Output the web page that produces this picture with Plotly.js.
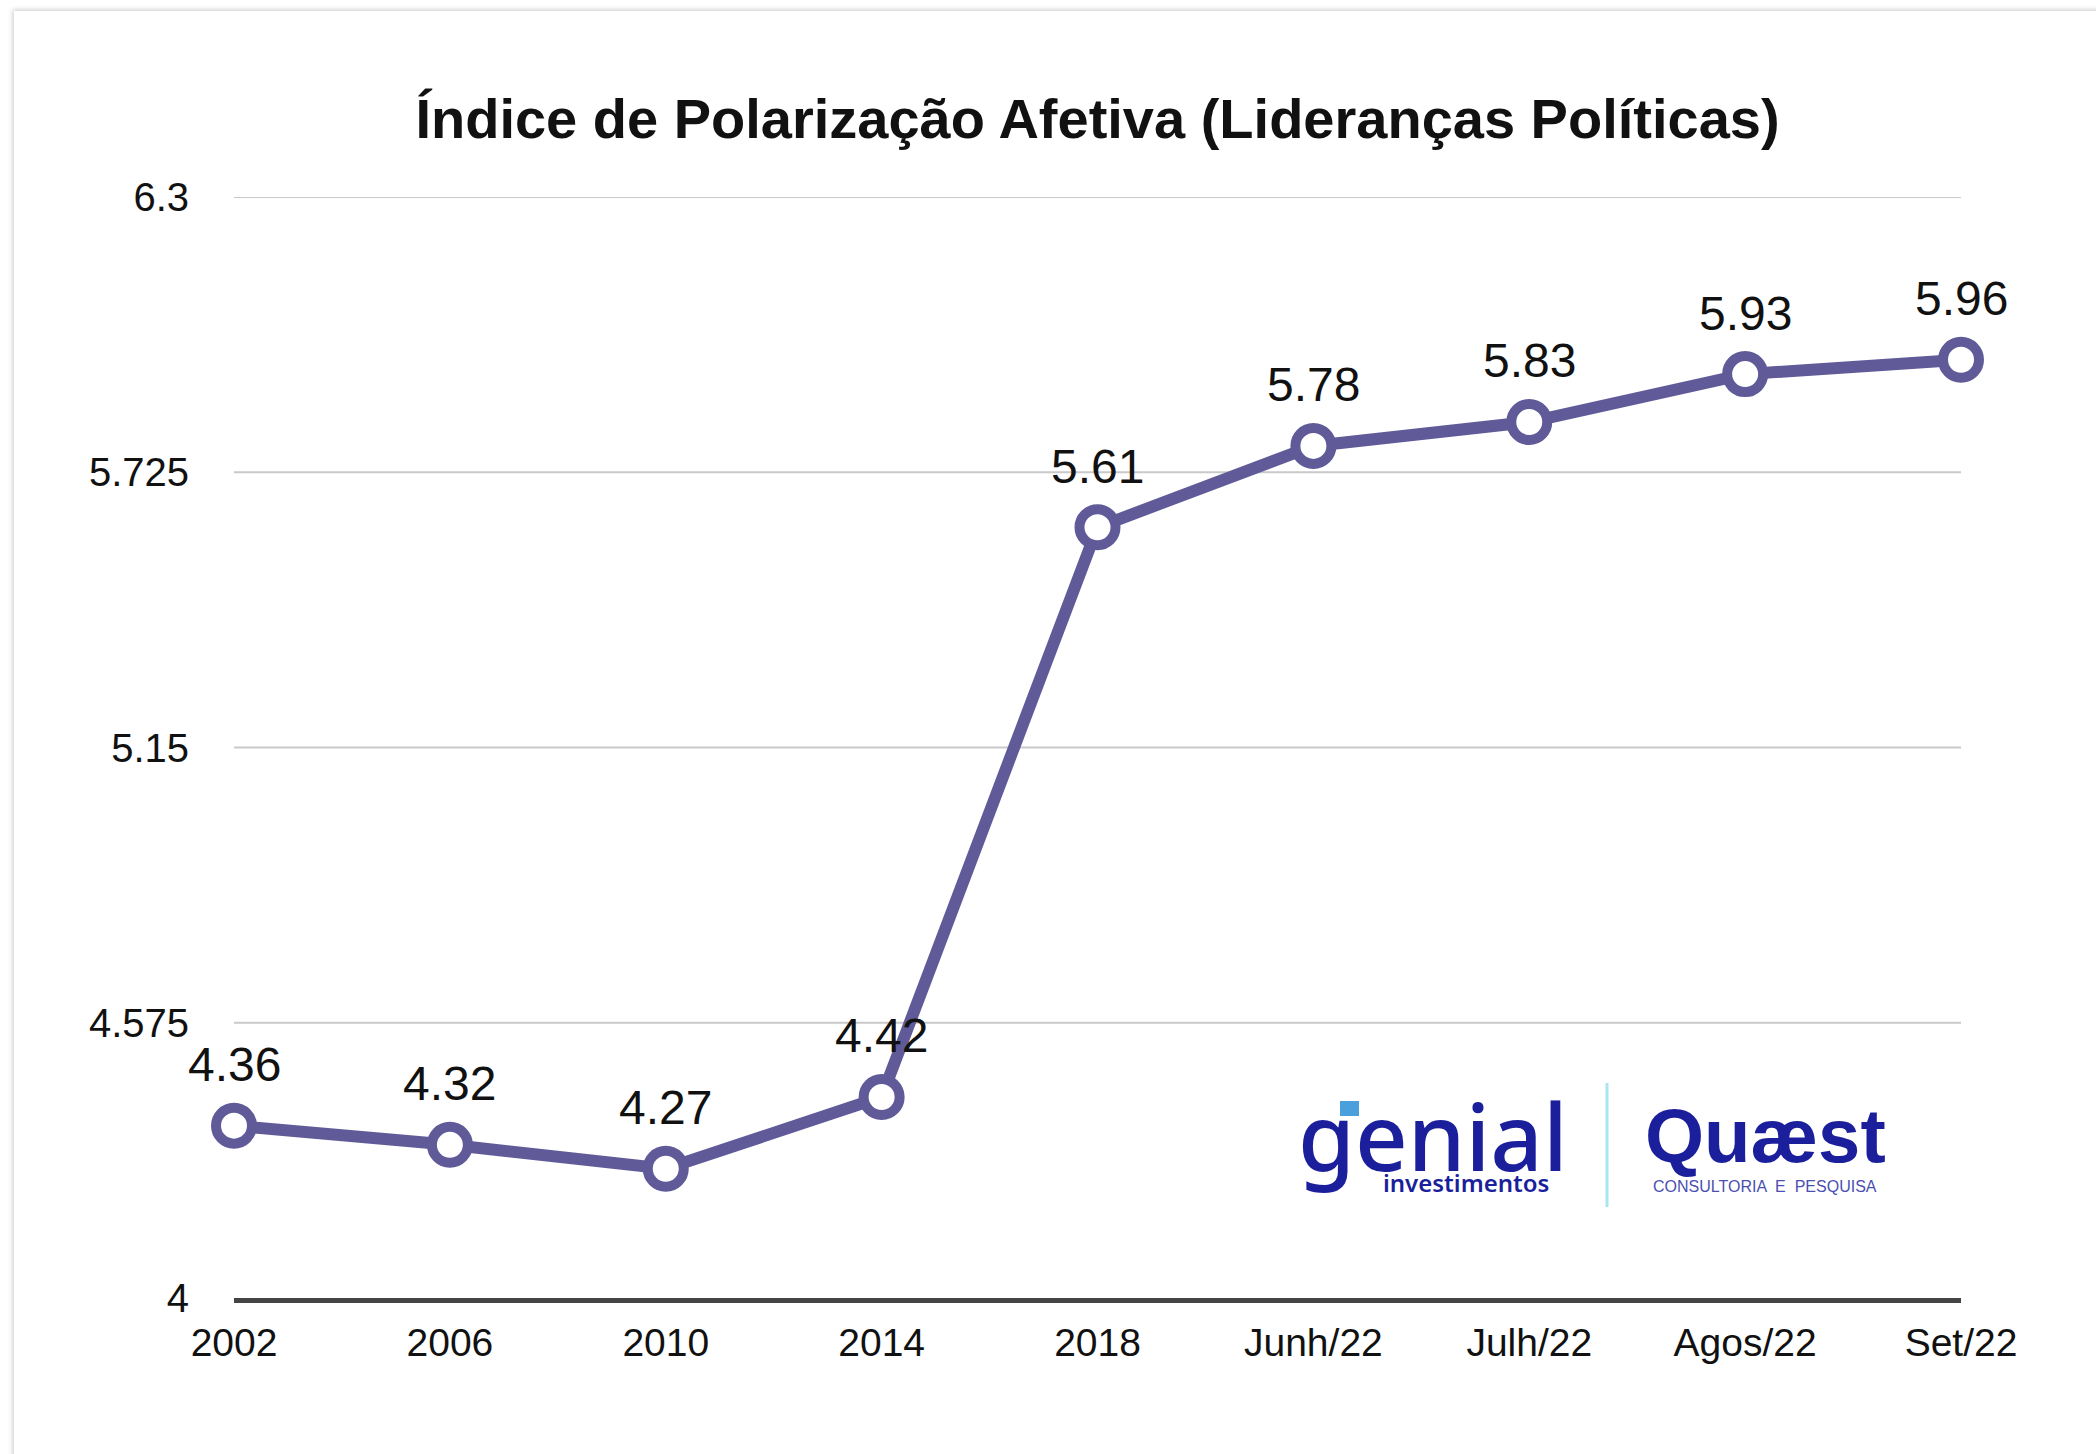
<!DOCTYPE html>
<html>
<head>
<meta charset="utf-8">
<script src="https://cdn.plot.ly/plotly-3.0.1.min.js"></script>
<style>
  html, body { margin: 0; padding: 0; background: #ffffff; width: 2096px; height: 1454px; overflow: hidden; }
  #card { position: absolute; left: 14px; top: 11px; width: 2200px; height: 1600px; background: #ffffff;
          box-shadow: 0 0 5px 1px rgba(0,0,0,0.22); }
  #chart { position: absolute; left: 0; top: 0; width: 2096px; height: 1454px; }
</style>
</head>
<body>
<div id="card"></div>
<div id="chart"></div>
<script>
// ---- data ----
const categories = ["2002", "2006", "2010", "2014", "2018", "Junh/22", "Julh/22", "Agos/22", "Set/22"];
const values = [4.36, 4.32, 4.27, 4.42, 5.61, 5.78, 5.83, 5.93, 5.96];
const yTickVals = [4, 4.575, 5.15, 5.725, 6.3];
const yTickText = ["4", "4.575", "5.15", "5.725", "6.3"];
const titleText = "Índice de Polarização Afetiva (Lideranças Políticas)";

// ---- layout geometry (pixels) ----
const W = 2096, H = 1454;
const M = { l: 234, r: 135, t: 197, b: 156 };
const plotW = W - M.l - M.r, plotH = H - M.t - M.b;
const px = x => (x - M.l) / plotW;            // pixel -> paper x
const py = y => (H - M.b - y) / plotH;         // pixel -> paper y

const lineColor = "rgb(96,91,152)";
const font = "Liberation Sans, Arial, Helvetica, sans-serif";
const logoBlue = "#1b1f9c";

const trace = {
  type: "scatter",
  mode: "lines+markers",
  x: categories,
  y: values,
  line: { color: lineColor, width: 12 },
  marker: { symbol: "circle", size: 36, color: "#ffffff", line: { color: lineColor, width: 10 } },
  cliponaxis: false,
  hoverinfo: "skip"
};

// annotations placed by category index (numeric-looking categories would be read as numbers)
const labelAnnotations = categories.map((c, i) => ({
  x: i, y: values[i], xref: "x", yref: "y",
  text: values[i].toFixed(2),
  showarrow: false, yanchor: "middle", xanchor: "center", yshift: 61,
  font: { family: font, size: 48, color: "#111111" }
}));

const gridShapes = yTickVals.slice(1).map(v => ({
  type: "line", xref: "paper", yref: "y", x0: 0, x1: 1, y0: v, y1: v,
  line: { color: "#c9c9c9", width: 2 }, layer: "below"
}));

const logoAnnotations = [
  { x: px(1296), y: py(1135), xref: "paper", yref: "paper", xanchor: "left", yanchor: "middle",
    text: "genial", showarrow: false,
    font: { family: "Noto Sans, Open Sans, sans-serif", size: 92, color: logoBlue, weight: 500 } },
  { x: px(1466), y: py(1182), xref: "paper", yref: "paper", xanchor: "center", yanchor: "middle",
    text: "investimentos", showarrow: false,
    font: { family: "Noto Sans, sans-serif", size: 24, color: logoBlue, weight: 600 } },
  { x: px(1765), y: py(1135), xref: "paper", yref: "paper", xanchor: "center", yanchor: "middle",
    text: "<b>Quæst</b>", showarrow: false,
    font: { family: "Liberation Sans Narrow, Liberation Sans, Arial, sans-serif", size: 76, color: logoBlue } },
  { x: px(1765), y: py(1186), xref: "paper", yref: "paper", xanchor: "center", yanchor: "middle",
    text: "CONSULTORIA  E  PESQUISA", showarrow: false,
    font: { family: "Liberation Sans, Arial, sans-serif", size: 16, color: "#4a4fb0" } }
];

const layout = {
  width: W, height: H,
  margin: M,
  paper_bgcolor: "rgba(0,0,0,0)",
  plot_bgcolor: "rgba(0,0,0,0)",
  showlegend: false,
  title: {
    text: "<b>" + titleText + "</b>",
    x: 0.5, xref: "paper", xanchor: "center",
    y: 1 - 118 / H, yref: "container", yanchor: "middle",
    font: { family: font, size: 56, color: "#111111" }
  },
  xaxis: {
    type: "category",
    range: [0, categories.length - 1],
    showgrid: false,
    showline: true, linecolor: "#444444", linewidth: 5,
    ticks: "", ticklabelstandoff: 6,
    tickfont: { family: font, size: 39, color: "#111111" },
    zeroline: false, fixedrange: true
  },
  yaxis: {
    range: [4, 6.3],
    tickmode: "array", tickvals: yTickVals, ticktext: yTickText,
    showgrid: false,
    showline: false, zeroline: false,
    ticks: "", ticklabelstandoff: 44,
    tickfont: { family: font, size: 40, color: "#111111" },
    fixedrange: true
  },
  annotations: labelAnnotations.concat(logoAnnotations),
  shapes: gridShapes.concat([
    { type: "line", xref: "paper", yref: "paper", x0: px(1607), x1: px(1607), y0: py(1083), y1: py(1207),
      line: { color: "#a9e6f2", width: 3 } },
    { type: "rect", xref: "paper", yref: "paper", x0: px(1340), x1: px(1359), y0: py(1116), y1: py(1101),
      fillcolor: "#4aa0dc", line: { width: 0 } }
  ])
};

Plotly.newPlot("chart", [trace], layout, { displayModeBar: false, staticPlot: true });
</script>
</body>
</html>
